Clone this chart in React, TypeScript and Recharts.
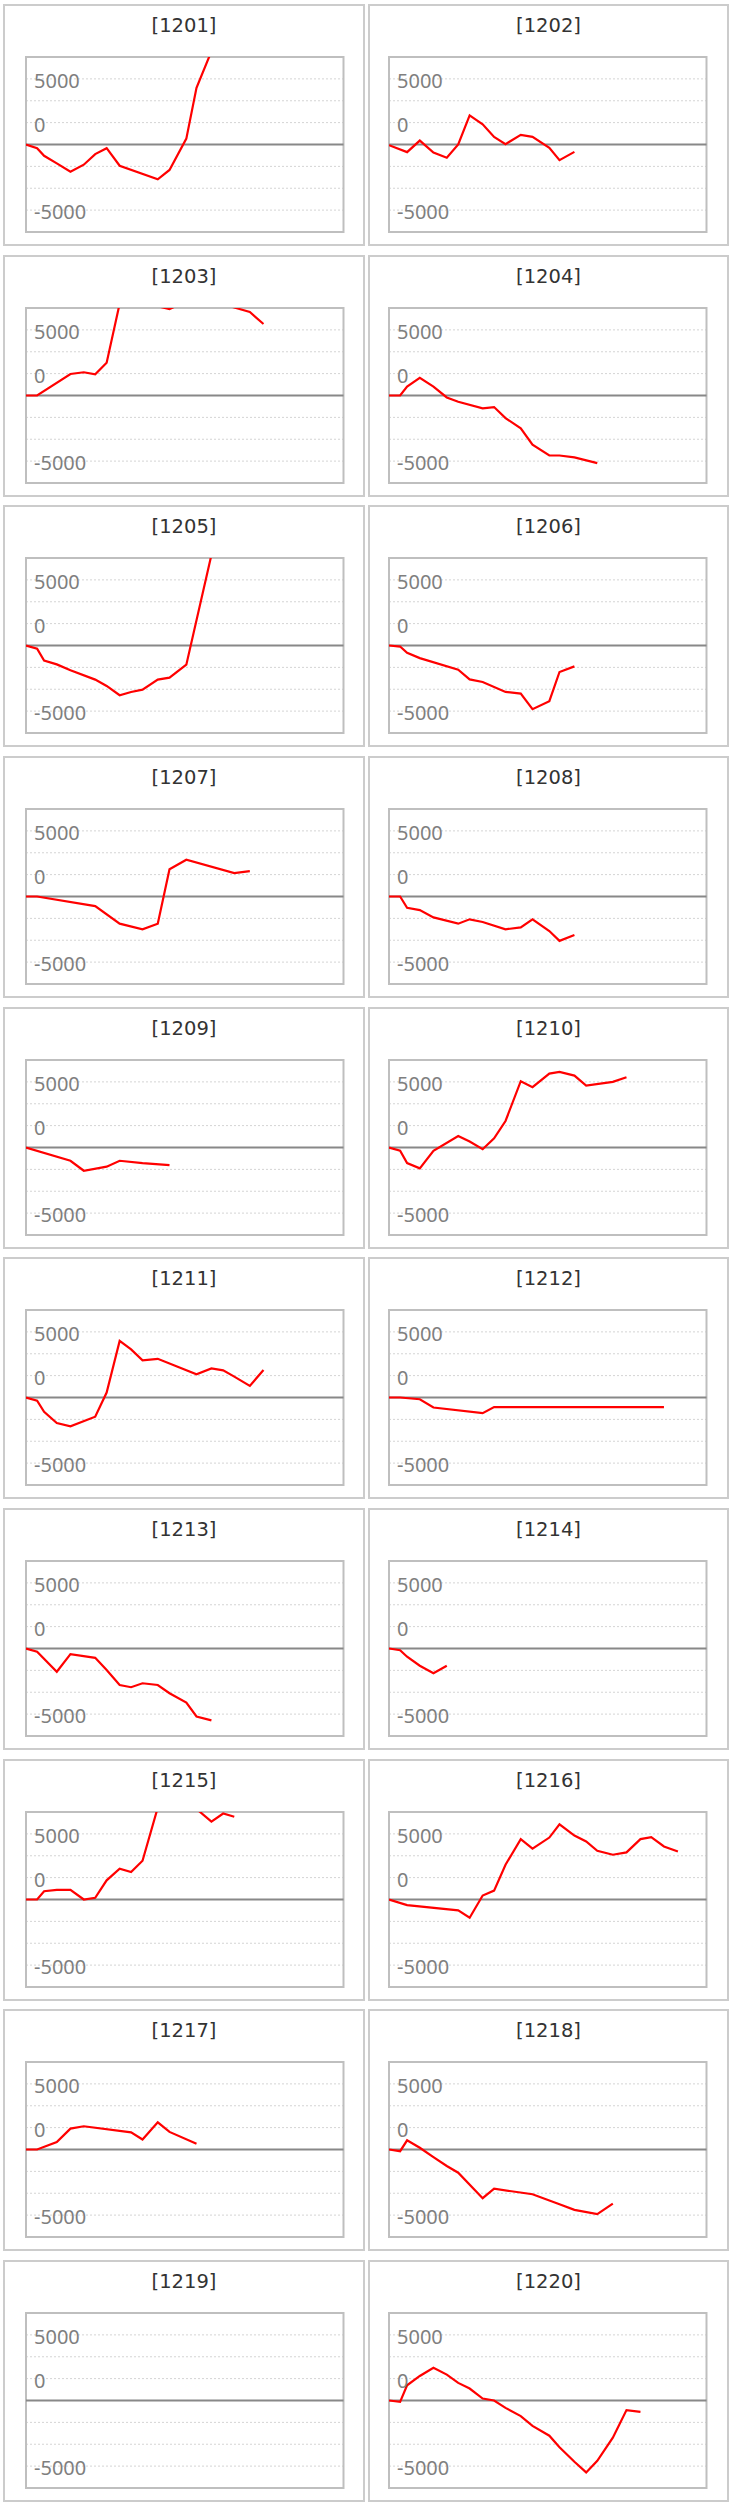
import { LineChart, Line, XAxis, YAxis, CartesianGrid, ReferenceLine, ReferenceArea } from "recharts"

// shared time axis (percent of the period), the points every series is sampled at
const timeline = [0, 3.5, 5.7, 9.7, 14.0, 18.2, 21.8, 25.4, 29.5, 33.1, 36.7, 41.5, 45.2, 50.5, 53.7, 58.4, 62.1, 65.6, 70.5, 74.8, 79.2, 82.6, 86.6, 91.0]

const codes = ["1201", "1202", "1203", "1204", "1205", "1206", "1207", "1208", "1209", "1210",
  "1211", "1212", "1213", "1214", "1215", "1216", "1217", "1218", "1219", "1220"]

type V = number | null

const s1201: V[] = [0, -280, -860, -1440, -2070, -1540, -730, -280, -1620, null, null, -2650, -1940, 450, 4320, 7100]
const s1202: V[] = [-50, null, -580, 300, -610, -1010, 0, 2220, 1540, 580, 30, 730, 580, -250, -1190, -560]
const s1203: V[] = [0, 0, null, null, 1640, 1770, 1620, 2500, 7000, 8500, 8000, 6800, 6580, 7200, 8000, 7500, 7000, 6700, 6360, 5450]
const s1204: V[] = [0, 0, 680, 1340, 680, -150, -480, null, -980, -880, -1720, -2500, -3740, -4570, -4570, -4720, null, -5150]
const s1205: V[] = [0, -250, -1140, -1440, -1890, null, -2600, -3080, -3790, -3540, -3360, -2600, -2450, -1460, null, 6900]
const s1206: V[] = [0, -80, -560, -960, null, null, -1840, -2580, -2780, null, -3540, -3660, -4850, -4240, -2020, -1590]
const s1207: V[] = [0, 0, null, null, null, null, -730, null, -2070, null, -2500, -2070, 2070, 2800, null, null, null, 1790, 1940]
const s1208: V[] = [0, 0, -860, -1040, -1590, null, -2070, -1740, -1940, null, -2500, -2350, -1740, -2630, -3380, -2930]
const s1209: V[] = [0, null, null, null, -1010, -1770, null, -1460, -1010, null, -1190, null, -1340]
const s1210: V[] = [0, -250, -1190, -1590, -250, null, 880, 450, -130, 700, 2020, 5050, 4600, 5630, 5760, 5480, 4720, null, 5000, 5350]
const s1211: V[] = [0, -250, -1090, -1940, -2200, null, -1460, 380, 4310, 3660, 2830, 2950, null, null, 1770, 2220, 2070, 1590, 880, 2100]
const s1212: V[] = [0, 0, null, -130, -760, null, null, null, -1190, -730, -730, -730, -730, -730, -730, -730, -730, -730, -730, -730, -730, -730, -730]
const s1213: V[] = [0, -250, null, -1770, -430, null, -710, -1640, -2780, -2950, -2650, -2780, -3410, -4120, -5180, -5480]
const s1214: V[] = [0, -130, -630, -1310, -1890, -1310]
const s1215: V[] = [0, 0, 630, 730, 730, 0, 130, 1460, 2350, 2100, 2950, 7000, 8200, 7600, 6900, 5930, 6550, 6310]
const s1216: V[] = [0, null, -430, null, null, null, -830, -1390, 300, 680, 2650, 4600, 3870, 4720, 5730, 4870, 4420, 3710, 3410, 3590, 4600, 4750, 4040, 3660]
const s1217: V[] = [0, 0, null, 560, 1590, 1770, null, null, null, 1310, 760, 2070, 1340, null, 430]
const s1218: V[] = [0, -130, 700, 130, -580, -1260, -1770, null, -3710, -2990, null, null, -3410, null, -4170, -4600, null, -4920, -4120]
const s1219: V[] = []
const s1220: V[] = [0, -100, 1160, 1870, 2500, 1970, 1340, 910, 150, 0, -560, -1190, -1940, -2680, -3560, -4670, -5480, -4600, -2830, -730, -860]

const series = [s1201, s1202, s1203, s1204, s1205, s1206, s1207, s1208, s1209, s1210,
  s1211, s1212, s1213, s1214, s1215, s1216, s1217, s1218, s1219, s1220]

const yDomain = [-6667, 6667]
const gridTicks = [-5000, -3333, -1667, 0, 1667, 3333, 5000]
// the source chart prints its "0" label one grid row above the baseline
const labelTicks = [5000, 1667, -5000]
const labelText = ["5000", "0", "-5000"]

const PITCH = 250.67
const panelLeft = [3, 368]
const panelWidth = [362, 361]
const plotLeft = [25.7, 389.4]
const PLOT_W = 317.5
const PLOT_H = 175

function YLabel(props: any) {
  const { x, y, payload } = props
  const i = labelTicks.indexOf(payload.value)
  if (i < 0) return <g />
  return (
    <text
      x={x + 8}
      y={y + 2}
      dy="0.355em"
      textAnchor="start"
      fill="#7f7f7f"
      fontSize={20}
      fontFamily="'Noto Sans', sans-serif"
    >
      {labelText[i]}
    </text>
  )
}

function Panel({ index }: { index: number }) {
  const row = Math.floor(index / 2)
  const col = index % 2
  const top = row * PITCH
  const data = timeline.map((t, i) => ({ t, v: series[index][i] ?? null }))

  return (
    <>
      <div
        style={{
          position: "absolute",
          left: panelLeft[col],
          top: 4 + top,
          width: panelWidth[col],
          height: 242,
          boxSizing: "border-box",
          border: "2px solid #cccccc",
        }}
      />
      <div
        style={{
          position: "absolute",
          left: panelLeft[col],
          top: 14 + top,
          width: panelWidth[col],
          textAlign: "center",
          fontFamily: "'DejaVu Sans', sans-serif",
          fontSize: 19.5,
          lineHeight: "24px",
          color: "#333333",
        }}
      >
        [{codes[index]}]
      </div>
      <div style={{ position: "absolute", left: plotLeft[col] - 2, top: 57 + top - 2 }}>
        <LineChart width={PLOT_W + 4} height={PLOT_H + 4} data={data} margin={{ top: 2, right: 2, bottom: 2, left: 1 }}>
          <XAxis type="number" dataKey="t" domain={[0, 100]} hide allowDataOverflow />
          <YAxis
            domain={yDomain}
            ticks={gridTicks}
            allowDataOverflow
            width={1}
            axisLine={false}
            tickLine={false}
            tickSize={0}
            tickMargin={0}
            interval={0}
            tick={<YLabel />}
          />
          <CartesianGrid vertical={false} stroke="#d4d4d4" strokeDasharray="2 2" />
          <ReferenceLine y={0} stroke="#888888" strokeWidth={2} />
          <Line
            type="linear"
            dataKey="v"
            stroke="#ff0000"
            strokeWidth={2.2}
            dot={false}
            connectNulls
            isAnimationActive={false}
          />
          <ReferenceArea
            x1={0}
            x2={100}
            y1={yDomain[0]}
            y2={yDomain[1]}
            fill="none"
            fillOpacity={0}
            stroke="#bfbfbf"
            strokeWidth={2}
          />
        </LineChart>
      </div>
    </>
  )
}

export default function App() {
  return (
    <div style={{ position: "absolute", left: 0, top: 0, width: 733, height: 2505, overflow: "hidden", background: "#fff" }}>
      {codes.map((c, i) => (
        <Panel key={c} index={i} />
      ))}
    </div>
  )
}
